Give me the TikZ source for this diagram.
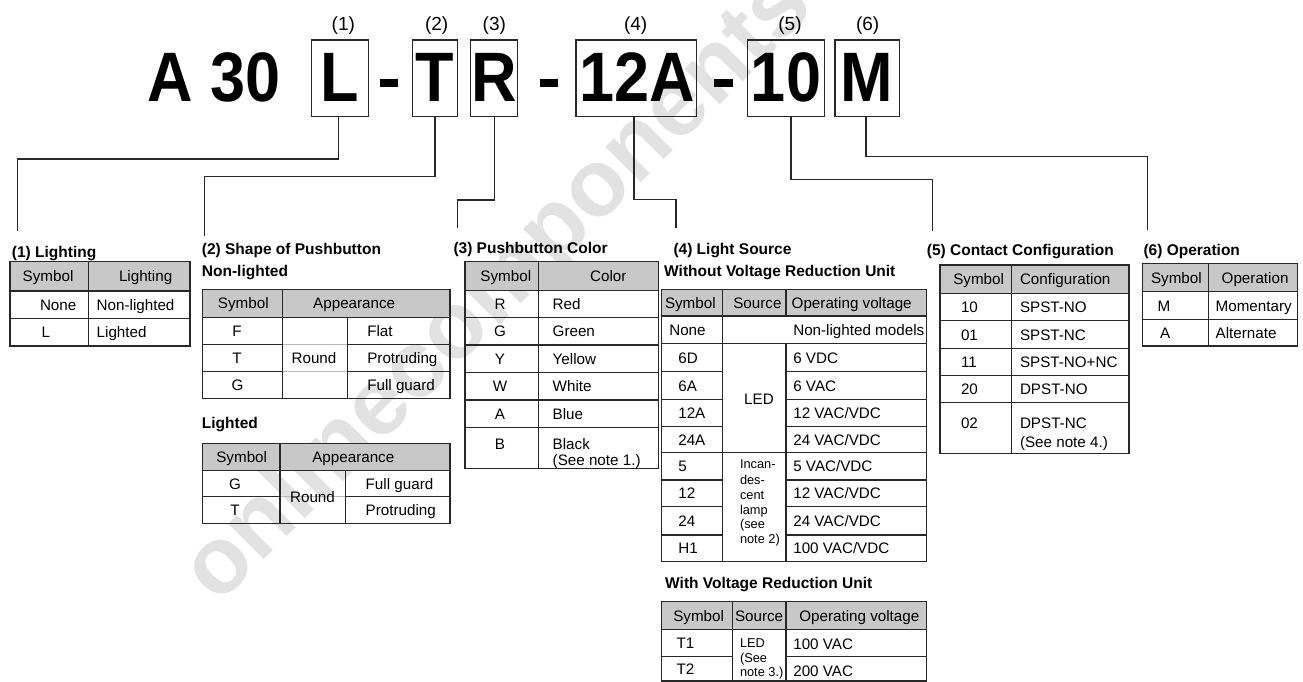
\documentclass[tikz,border=0pt]{standalone}
\usepackage{fontspec}
\setmainfont{Liberation Sans}
\usetikzlibrary{calc}
\definecolor{hdr}{RGB}{200,200,200}
\definecolor{ln}{RGB}{40,40,40}
\definecolor{wm}{RGB}{226,226,226}
\newcounter{cc}
\tikzset{
 grid/.style={draw=ln, line width=1.3pt},
 faint/.style={draw=gray!55, line width=1pt},
 conn/.style={draw=ln, line width=1.4pt},
 txt/.style={inner sep=0pt, outer sep=0pt, font=\fontsize{15.2}{17}\selectfont},
 sml/.style={inner sep=0pt, outer sep=0pt, font=\fontsize{12.8}{14}\selectfont},
 ttl/.style={inner sep=0pt, anchor=base west, font=\fontsize{15.5}{18}\selectfont\bfseries},
 big/.style={inner sep=0pt, anchor=base, font=\fontsize{70}{70}\selectfont\bfseries},
 box/.style={draw=ln, line width=1.3pt, inner sep=0pt, rectangle},
 num/.style={inner sep=0pt, anchor=base, font=\fontsize{19}{20}\selectfont},
}
\newcommand{\TL}[3]{\stepcounter{cc}\node[txt,anchor=base west] (c\thecc) at (#1,{#2+5.5}) {#3};}
\newcommand{\TC}[3]{\stepcounter{cc}\node[txt,anchor=base] (c\thecc) at (#1,{#2+5.5}) {#3};}
\newcommand{\TS}[3]{\stepcounter{cc}\node[sml,anchor=base west] (c\thecc) at (#1,{#2+4.6}) {#3};}
\begin{document}
\begin{tikzpicture}[x=1pt,y=-1pt]
\useasboundingbox (0,0) rectangle (1303,682);
% watermark
\node[inner sep=0pt, rotate=45, text=wm, font=\fontsize{95}{95}\selectfont\bfseries] (wmk) at (500,290) {onlinecomponents};

% header
\node[big] (a30) at (214,101.7) {\scalebox{0.9}[1]{A 30}};
\node[box, minimum width=57pt, minimum height=76.7pt] (bL) at (340.2,78.35) {};
\node[box, minimum width=45.4pt, minimum height=76.7pt] (bT) at (435,78.35) {};
\node[box, minimum width=47pt, minimum height=76.7pt] (bR) at (494.2,78.35) {};
\node[box, minimum width=120.7pt, minimum height=76.7pt] (bA) at (636.3,78.35) {};
\node[box, minimum width=76.6pt, minimum height=76.7pt] (b10) at (786,78.35) {};
\node[box, minimum width=64.3pt, minimum height=76.7pt] (bM) at (867.2,78.35) {};
\node[big] (lL) at (340.2,101.7) {\scalebox{0.9}[1]{L}};
\node[big] (lT) at (435,101.7) {\scalebox{0.9}[1]{T}};
\node[big] (lR) at (494.6,101.7) {\scalebox{0.9}[1]{R}};
\node[big] (lA) at (636.8,101.7) {\scalebox{0.9}[1]{12A}};
\node[big] (l10) at (786,101.7) {\scalebox{0.9}[1]{10}};
\node[big] (lM) at (867.2,101.7) {\scalebox{0.9}[1]{M}};
\fill[black] (380,79) rectangle (398.3,87);
\fill[black] (540,79) rectangle (558.3,87);
\fill[black] (714.3,79) rectangle (733.3,87);
\node[num] (n1) at (343.3,30.5) {(1)};
\node[num] (n2) at (436.7,30.5) {(2)};
\node[num] (n3) at (494.3,30.5) {(3)};
\node[num] (n4) at (635.7,30.5) {(4)};
\node[num] (n5) at (790,30.5) {(5)};
\node[num] (n6) at (867.7,30.5) {(6)};

% connector ends
\coordinate (e1) at (17.3,230.7);
\coordinate (e2) at (204.3,236);
\coordinate (e3) at (457.7,228.3);
\coordinate (e4) at (676,228.3);
\coordinate (e5) at (932.3,230.7);
\coordinate (e6) at (1147.7,230);
\draw[conn] ([xshift=-1.7pt]bL.south) -- ([xshift=-1.7pt]bL.south |- 0,159) -| (e1);
\draw[conn] (bT.south) -- (bT.south |- 0,176.7) -| (e2);
\draw[conn] (bR.south) -- (bR.south |- 0,200) -| (e3);
\draw[conn] ([xshift=-2.3pt]bA.south) -- ([xshift=-2.3pt]bA.south |- 0,199.3) -| (e4);
\draw[conn] ([xshift=5pt]b10.south) -- ([xshift=5pt]b10.south |- 0,179.3) -| (e5);
\draw[conn] ([xshift=-1.2pt]bM.south) -- ([xshift=-1.2pt]bM.south |- 0,156.7) -| (e6);

% ---------- table 1
\node[ttl] (t1) at (11.7,257) {(1) Lighting};
\fill[hdr] (10,261.7) rectangle (190,291);
\draw[grid] (10,261.7) rectangle (190,346);
\draw[grid] (10,291) -- (190,291) (10,318.3) -- (190,318.3) (88.3,261.7) -- (88.3,346);
\TL{22.7}{276.3}{Symbol}
\TL{119}{276.3}{Lighting}
\TL{40}{304.7}{None}
\TL{96.7}{304.7}{Non-lighted}
\TL{41.7}{332.2}{L}
\TL{96.7}{332.2}{Lighted}

% ---------- table 2
\node[ttl] (t2) at (201.7,254) {(2) Shape of Pushbutton};
\node[ttl] (t2a) at (201.7,276.7) {Non-lighted};
\fill[hdr] (202.3,289.3) rectangle (450,317.3);
\draw[faint] (282.3,344.3) -- (347.7,344.3) (282.3,371.7) -- (347.7,371.7);
\draw[grid] (202.3,289.3) rectangle (450,398.3);
\draw[grid] (202.3,317.3) -- (450,317.3);
\draw[grid] (202.3,344.3) -- (282.3,344.3) (347.7,344.3) -- (450,344.3);
\draw[grid] (202.3,371.7) -- (282.3,371.7) (347.7,371.7) -- (450,371.7);
\draw[grid] (282.3,289.3) -- (282.3,398.3) (347.7,317.3) -- (347.7,398.3);
\TC{243.3}{303.3}{Symbol}
\TC{354.2}{303.3}{Appearance}
\TC{237}{330.8}{F}
\TC{237}{358}{T}
\TC{237.5}{385}{G}
\TC{314}{358}{Round}
\TL{367.3}{330.8}{Flat}
\TL{367.3}{358}{Protruding}
\TL{367.3}{385}{Full guard}

\node[ttl] (t2b) at (201.7,428.3) {Lighted};
\fill[hdr] (202.3,443.3) rectangle (450,470.7);
\draw[faint] (280,496.7) -- (345.7,496.7);
\draw[grid] (202.3,443.3) rectangle (450,523.3);
\draw[grid] (202.3,470.7) -- (450,470.7);
\draw[grid] (202.3,496.7) -- (280,496.7) (345.7,496.7) -- (450,496.7);
\draw[grid] (280,443.3) -- (280,523.3) (345.7,470.7) -- (345.7,523.3);
\TC{241.7}{457}{Symbol}
\TC{353.3}{457}{Appearance}
\TC{235}{483.7}{G}
\TC{235}{510}{T}
\TC{312.5}{496.7}{Round}
\TL{365.7}{483.7}{Full guard}
\TL{365.7}{510}{Protruding}

% ---------- table 3
\node[ttl] (t3) at (453.3,253.3) {(3) Pushbutton Color};
\fill[hdr] (465,261.7) rectangle (658.3,290.7);
\draw[grid] (465,261.7) rectangle (658.3,468.3);
\foreach \yy in {290.7,317.3,345,372.7,400,427.3} \draw[grid] (465,\yy) -- (658.3,\yy);
\draw[grid] (538.3,261.7) -- (538.3,468.3);
\TC{505.8}{276.2}{Symbol}
\TC{608.3}{276.2}{Color}
\TC{500}{304}{R}
\TC{500}{331.2}{G}
\TC{500}{358.9}{Y}
\TC{500}{386.4}{W}
\TC{500}{413.7}{A}
\TC{500}{444}{B}
\TL{552.7}{304}{Red}
\TL{552.7}{331.2}{Green}
\TL{552.7}{358.9}{Yellow}
\TL{552.7}{386.4}{White}
\TL{552.7}{413.7}{Blue}
\TL{552.7}{444}{Black}
\TL{552.7}{460}{(See note 1.)}

% ---------- table 4
\node[ttl] (t4) at (673.3,254) {(4) Light Source};
\node[ttl] (t4a) at (664,276) {Without Voltage Reduction Unit};
\fill[hdr] (661.7,289.3) rectangle (926.7,316);
\draw[grid] (661.7,289.3) rectangle (926.7,561.7);
\draw[grid] (661.7,316) -- (926.7,316) (661.7,343.3) -- (926.7,343.3) (661.7,452.7) -- (926.7,452.7);
\foreach \yy in {371.7,399.3,426.7,480,506.7,535} \draw[grid] (661.7,\yy) -- (722.3,\yy) (786,\yy) -- (926.7,\yy);
\draw[grid] (722.3,289.3) -- (722.3,561.7) (786,289.3) -- (786,316) (786,343.3) -- (786,561.7);
\TL{665}{302.7}{Symbol}
\TL{733.3}{302.7}{Source}
\TL{791.7}{302.7}{Operating voltage}
\TL{669.3}{329.7}{None}
\TL{793.3}{329.7}{Non-lighted models}
\TL{678.3}{357.5}{6D}
\TL{678.3}{385.5}{6A}
\TL{678.3}{413}{12A}
\TL{678.3}{439.7}{24A}
\TL{678.3}{466.3}{5}
\TL{678.3}{493.3}{12}
\TL{678.3}{520.8}{24}
\TL{678.3}{548.3}{H1}
\TC{759}{399.3}{LED}
\TL{793.3}{357.5}{6 VDC}
\TL{793.3}{385.5}{6 VAC}
\TL{793.3}{413}{12 VAC/VDC}
\TL{793.3}{439.7}{24 VAC/VDC}
\TL{793.3}{466.3}{5 VAC/VDC}
\TL{793.3}{493.3}{12 VAC/VDC}
\TL{793.3}{520.8}{24 VAC/VDC}
\TL{793.3}{548.3}{100 VAC/VDC}
\TS{740}{464}{Incan-}
\TS{740}{479.5}{des-}
\TS{740}{494.5}{cent}
\TS{740}{509.5}{lamp}
\TS{740}{524}{(see}
\TS{740}{539}{note 2)}

\node[ttl] (t4b) at (665,588.3) {With Voltage Reduction Unit};
\fill[hdr] (661.7,601.7) rectangle (926.7,629.3);
\draw[grid] (661.7,601.7) rectangle (926.7,681);
\draw[grid] (661.7,629.3) -- (926.7,629.3) (661.7,656.7) -- (732.7,656.7) (786,656.7) -- (926.7,656.7);
\draw[grid] (732.7,601.7) -- (732.7,681) (786,601.7) -- (786,681);
\TL{673.3}{615.5}{Symbol}
\TL{735}{615.5}{Source}
\TL{799.3}{615.5}{Operating voltage}
\TL{676.7}{643}{T1}
\TL{676.7}{669}{T2}
\TS{740}{643}{LED}
\TS{740}{658}{(See}
\TS{740}{672}{note 3.)}
\TL{793.3}{644}{100 VAC}
\TL{793.3}{670.5}{200 VAC}

% ---------- table 5
\node[ttl] (t5) at (926.7,255) {(5) Contact Configuration};
\fill[hdr] (940,265) rectangle (1129,293.3);
\draw[grid] (940,265) rectangle (1129,453.3);
\foreach \yy in {293.3,320.7,348.3,375.7,402.7} \draw[grid] (940,\yy) -- (1129,\yy);
\draw[grid] (1011.7,265) -- (1011.7,453.3);
\TL{953.3}{279.2}{Symbol}
\TL{1020}{279.2}{Configuration}
\TL{961}{307}{10}
\TL{961}{334.5}{01}
\TL{961}{362}{11}
\TL{961}{389.2}{20}
\TL{961}{423.3}{02}
\TL{1020}{307}{SPST-NO}
\TL{1020}{334.5}{SPST-NC}
\TL{1020}{362}{SPST-NO+NC}
\TL{1020}{389.2}{DPST-NO}
\TL{1020}{423.3}{DPST-NC}
\TL{1020}{441.7}{(See note 4.)}

% ---------- table 6
\node[ttl] (t6) at (1143.3,255) {(6) Operation};
\fill[hdr] (1142.3,263.3) rectangle (1297.7,291.7);
\draw[grid] (1142.3,263.3) rectangle (1297.7,346);
\draw[grid] (1142.3,291.7) -- (1297.7,291.7) (1142.3,319.3) -- (1297.7,319.3) (1208.3,263.3) -- (1208.3,346);
\TL{1151}{277.5}{Symbol}
\TL{1221.7}{277.5}{Operation}
\TL{1157.7}{305.5}{M}
\TL{1160}{332.7}{A}
\TL{1215.7}{305.5}{Momentary}
\TL{1215.7}{332.7}{Alternate}
\end{tikzpicture}
\end{document}
